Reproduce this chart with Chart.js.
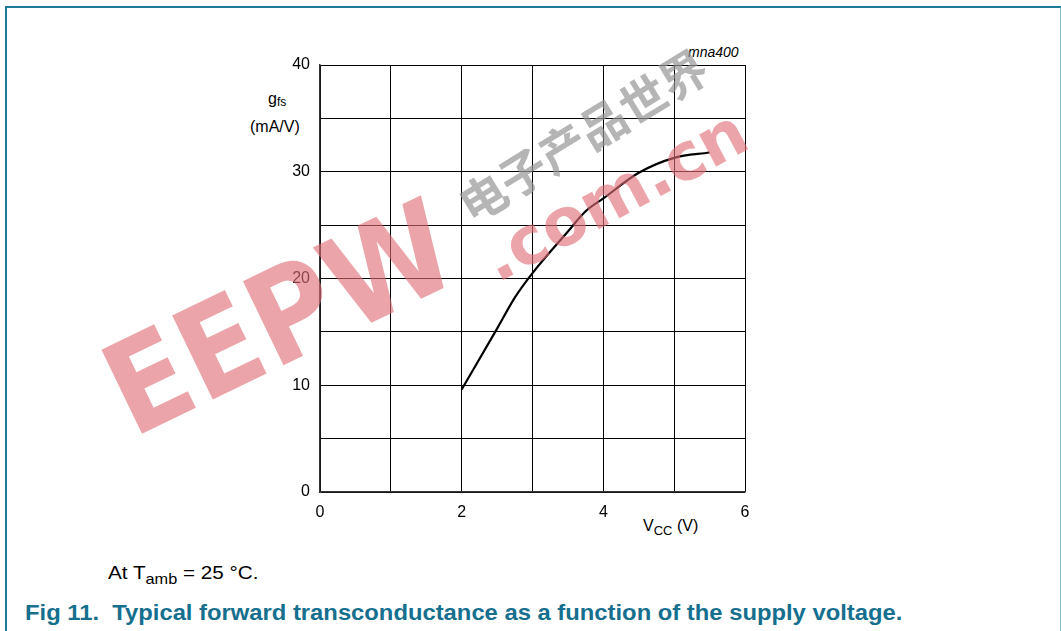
<!DOCTYPE html>
<html>
<head>
<meta charset="utf-8">
<script src="https://cdn.jsdelivr.net/npm/chart.js@4.4.1/dist/chart.umd.min.js"></script>
<style>
  html, body { margin: 0; padding: 0; background: #fff; }
  body { width: 1061px; height: 631px; position: relative; overflow: hidden; font-family: "Liberation Sans", Arial, sans-serif; }
  #frame { position: absolute; left: 5px; top: 6px; width: 1053px; height: 640px;
           border-top: 2px solid #1d7b97; border-left: 2px solid #1d7b97; border-right: 2px solid #84bccb; }
  .lbl { position: absolute; color: #000; white-space: nowrap; transform-origin: 0 0; }
  #caption { position: absolute; left: 25px; top: 600px; font-weight: bold; font-size: 22px; color: #166f8e; white-space: nowrap; transform-origin: 0 0; }
  canvas { position: absolute; left: 0; top: 0; }
</style>
</head>
<body>
<div id="frame"></div>
<div class="lbl" style="left:268px; top:90px; font-size:16px;">g<sub style="font-size:12px; vertical-align:-2px;">fs</sub></div>
<div class="lbl" style="left:250px; top:118px; font-size:16px;">(mA/V)</div>
<div class="lbl" style="left:643px; top:517px; font-size:16px;">V<sub style="font-size:13px; vertical-align:-4px;">CC</sub> (V)</div>
<div class="lbl" style="left:688px; top:44px; font-size:14px; font-style:italic;">mna400</div>
<div class="lbl" id="note" style="left:108px; top:562px; font-size:19px;">At T<sub style="font-size:15px; vertical-align:-5px;">amb</sub> = 25 °C.</div>
<div id="caption">Fig 11.&nbsp; Typical forward transconductance as a function of the supply voltage.</div>
<canvas id="c" width="1061" height="631"></canvas>
<script>
// supply voltage (V) and forward transconductance (mA/V)
const vcc = [2, 2.5, 2.75, 3, 3.5, 3.75, 4, 4.5, 5, 5.5];
const gfs = [9.6, 15.3, 18.2, 20.5, 24.4, 26.3, 27.5, 29.9, 31.3, 31.8];

const xTickLabels = [0, 2, 4, 6];
const yTickLabels = [0, 10, 20, 30, 40];

const FONT = "'Liberation Sans', Arial, sans-serif";

// stretch a text line so it spans the same width as in the scan
function fitWidth(id, w) {
  const el = document.getElementById(id);
  el.style.transform = 'scaleX(' + (w / el.offsetWidth) + ')';
}
fitWidth('caption', 877);
fitWidth('note', 150);

// watermark drawn over everything, like the scanned original
const watermark = {
  id: 'watermark',
  afterDraw(chart) {
    const ctx = chart.ctx;
    const stamp = (txt, x, y, ang, sx, font, color) => {
      ctx.save();
      ctx.fillStyle = color;
      ctx.textAlign = 'center';
      ctx.textBaseline = 'middle';
      ctx.translate(x, y);
      ctx.rotate(ang);
      ctx.scale(sx, 1);
      ctx.font = font;
      ctx.fillText(txt, 0, 0);
      ctx.restore();
    };
    stamp('EEPW', 284, 328, -0.45, 0.9, "bold 128px 'DejaVu Sans'", 'rgba(222,110,118,0.62)');
    stamp('.com.cn', 617, 200, -0.49, 1, "bold 66px 'DejaVu Sans'", 'rgba(222,110,118,0.62)');
    stamp('电子产品世界', 583, 136, -0.55, 1, "bold 47px 'Noto Sans CJK SC'", 'rgba(150,150,150,0.7)');
  }
};

new Chart(document.getElementById('c'), {
  type: 'scatter',
  data: {
    datasets: [{
      data: vcc.map((v, i) => ({ x: v, y: gfs[i] })),
      showLine: true,
      borderColor: '#000',
      borderWidth: 2.2,
      pointRadius: 0,
      cubicInterpolationMode: 'monotone'
    }]
  },
  options: {
    responsive: false,
    animation: false,
    devicePixelRatio: 1,
    layout: { padding: { left: 0, top: 65, right: 316, bottom: 0 } },
    plugins: { legend: { display: false }, tooltip: { enabled: false } },
    scales: {
      x: {
        type: 'linear', min: 0, max: 6,
        afterFit: s => { s.height = 139; },
        border: { color: '#333', width: 1.5 },
        grid: { color: '#000', lineWidth: 1, drawTicks: false },
        ticks: {
          stepSize: 1, autoSkip: false, maxRotation: 0, padding: 11,
          color: '#000', font: { family: FONT, size: 16 },
          callback: v => xTickLabels.includes(v) ? String(v) : ''
        }
      },
      y: {
        type: 'linear', min: 0, max: 40,
        afterFit: s => { s.width = 320; },
        border: { color: '#333', width: 1.5 },
        grid: { color: '#000', lineWidth: 1, drawTicks: false },
        ticks: {
          stepSize: 5, autoSkip: false, padding: 10,
          color: '#000', font: { family: FONT, size: 16 },
          callback: v => yTickLabels.includes(v) ? String(v) : ''
        }
      }
    }
  },
  plugins: [watermark]
});
</script>
</body>
</html>
